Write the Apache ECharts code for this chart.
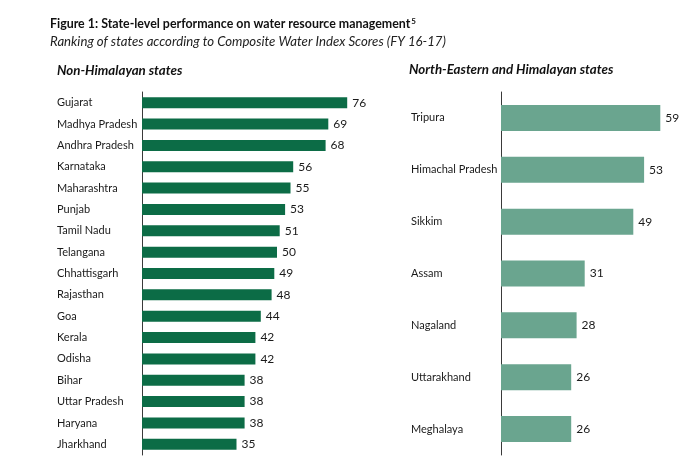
<!DOCTYPE html>
<html>
<head>
<meta charset="utf-8">
<script src="https://cdn.jsdelivr.net/npm/echarts@6/dist/echarts.min.js"></script>
<style>html,body{margin:0;padding:0;background:#fff;}#c{width:700px;height:461px;}</style>
</head>
<body>
<div id="c"></div>
<script>
const leftStates = ['Gujarat','Madhya Pradesh','Andhra Pradesh','Karnataka','Maharashtra','Punjab','Tamil Nadu','Telangana','Chhattisgarh','Rajasthan','Goa','Kerala','Odisha','Bihar','Uttar Pradesh','Haryana','Jharkhand'];
const leftValues = [76,69,68,56,55,53,51,50,49,48,44,42,42,38,38,38,35];
const rightStates = ['Tripura','Himachal Pradesh','Sikkim','Assam','Nagaland','Uttarakhand','Meghalaya'];
const rightValues = [59,53,49,31,28,26,26];

const FONT = 'Lato';
const chart = echarts.init(document.getElementById('c'), null, {renderer:'canvas'});

function catAxis(idx, names, margin){
  return {
    type:'category', gridIndex: idx, data: names, inverse: true,
    axisLine:{show:true, lineStyle:{color:'#3a3a3a', width:1}},
    axisTick:{show:false},
    axisLabel:{align:'left', margin: margin, color:'#1a1a1a', fontFamily: FONT, fontSize: 11}
  };
}
function valAxis(idx, max){
  return {type:'value', gridIndex: idx, min:0, max:max, show:false};
}

chart.setOption({
  animation:false,
  title:[
    {text:'Figure 1: State-level performance on water resource management{s|5}', left:50, top:17, padding:0,
     textStyle:{fontFamily:FONT, fontSize:12.4, fontWeight:'bold', color:'#111',
       rich:{s:{fontSize:8, fontWeight:'bold', verticalAlign:'top', padding:[0,0,6,1], color:'#111', fontFamily:FONT}}}},
    {text:'Ranking of states according to Composite Water Index Scores (FY 16-17)', left:50, top:35, padding:0,
     textStyle:{fontFamily:FONT, fontSize:13.2, fontStyle:'italic', fontWeight:'normal', color:'#222'}},
    {text:'Non-Himalayan states', left:57, top:64, padding:0,
     textStyle:{fontFamily:FONT, fontSize:13.3, fontStyle:'italic', fontWeight:'bold', color:'#111'}},
    {text:'North-Eastern and Himalayan states', left:409, top:63, padding:0,
     textStyle:{fontFamily:FONT, fontSize:13.3, fontStyle:'italic', fontWeight:'bold', color:'#111'}}
  ],
  grid:[
    {left:142, top:92, width:216, height:363},
    {left:501, top:92, width:162, height:363}
  ],
  xAxis:[valAxis(0,80), valAxis(1,60)],
  yAxis:[catAxis(0,leftStates,85), catAxis(1,rightStates,90)],
  series:[
    {type:'bar', xAxisIndex:0, yAxisIndex:0, data:leftValues, barWidth:11,
     itemStyle:{color:'#0c6c46'},
     label:{show:true, position:'right', distance:5, color:'#1a1a1a', fontFamily:FONT, fontSize:12}},
    {type:'bar', xAxisIndex:1, yAxisIndex:1, data:rightValues, barWidth:26,
     itemStyle:{color:'#6aa58f'},
     label:{show:true, position:'right', distance:5, color:'#1a1a1a', fontFamily:FONT, fontSize:12}}
  ]
});
</script>
</body>
</html>
